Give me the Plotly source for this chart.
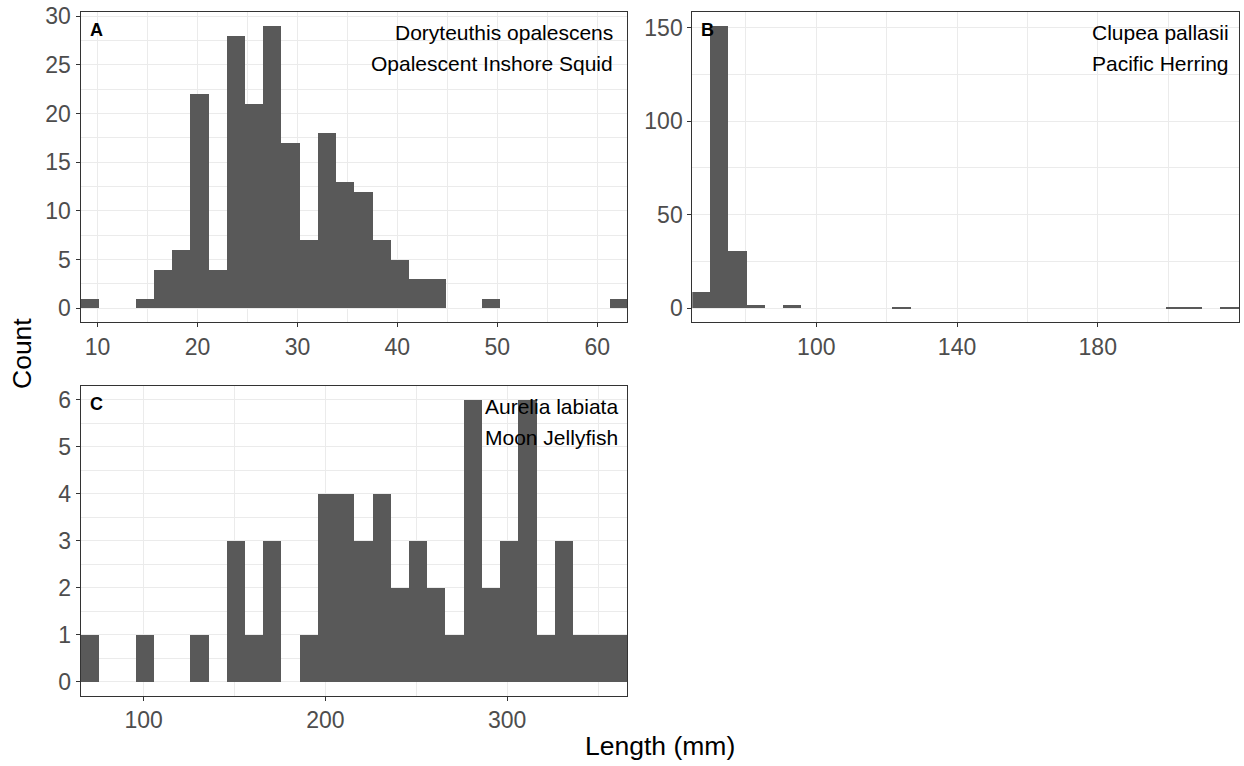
import plotly.graph_objects as go

# ---------------- data ----------------
# Panel A: Doryteuthis opalescens (30 bins)
a_bin_start = 8.29
a_bin_width = 1.824
a_counts = [1, 0, 0, 1, 4, 6, 22, 4, 28, 21, 29, 17, 7, 18, 13,
            12, 7, 5, 3, 3, 0, 0, 1, 0, 0, 0, 0, 0, 0, 1]
a_xticks = [10, 20, 30, 40, 50, 60]
a_yticks = [0, 5, 10, 15, 20, 25, 30]

# Panel B: Clupea pallasii (30 bins)
b_bin_start = 64.75
b_bin_width = 5.18
b_counts = [9, 151, 31, 2, 0, 2, 0, 0, 0, 0, 0, 1, 0, 0, 0,
            0, 0, 0, 0, 0, 0, 0, 0, 0, 0, 0, 1, 1, 0, 1]
b_xticks = [100, 140, 180]
b_yticks = [0, 50, 100, 150]

# Panel C: Aurelia labiata (30 bins)
c_bin_start = 65.4
c_bin_width = 10.023
c_counts = [1, 0, 0, 1, 0, 0, 1, 0, 3, 1, 3, 0, 1, 4, 4,
            3, 4, 2, 3, 2, 1, 6, 2, 3, 6, 1, 3, 1, 1, 1]
c_xticks = [100, 200, 300]
c_yticks = [0, 1, 2, 3, 4, 5, 6]

panel_letters = ["A", "B", "C"]
species_latin = ["Doryteuthis opalescens", "Clupea pallasii", "Aurelia labiata"]
species_common = ["Opalescent Inshore Squid", "Pacific Herring", "Moon Jellyfish"]
x_title = "Length (mm)"
y_title = "Count"

# ---------------- styling ----------------
W, H = 1244, 766
FONT = "Arial, Liberation Sans, sans-serif"
BAR = "#595959"
GRID = "#EBEBEB"
BORDER = "#333333"
TICKTXT = "#4D4D4D"

# plot areas in pixels: (left, right, top, bottom)
areas = [
    (80.5, 627.3, 11.7, 322.3),
    (692.3, 1239.0, 11.7, 322.3),
    (80.7, 627.3, 385.7, 695.7),
]


def px_x(v):
    return v / W


def px_y(v):
    return 1 - v / H


def centers(start, width, counts):
    return [start + (i + 0.5) * width for i in range(len(counts))]


def minor_vals(ticks, lo, hi):
    step = ticks[1] - ticks[0]
    vals = []
    t = ticks[0] - step / 2
    while t <= hi:
        if t >= lo:
            vals.append(t)
        t += step
    return vals


panels = [
    (a_bin_start, a_bin_width, a_counts, a_xticks, a_yticks),
    (b_bin_start, b_bin_width, b_counts, b_xticks, b_yticks),
    (c_bin_start, c_bin_width, c_counts, c_xticks, c_yticks),
]

fig = go.Figure()
layout = dict(
    width=W, height=H, autosize=False,
    margin=dict(l=0, r=0, t=0, b=0, pad=0, autoexpand=False),
    paper_bgcolor="white", plot_bgcolor="white",
    showlegend=False, bargap=0,
    font=dict(family=FONT, color="black"),
)

annotations = []
for i, (start, width, counts, xt, yt) in enumerate(panels):
    n = "" if i == 0 else str(i + 1)
    xs = centers(start, width, counts)
    fig.add_trace(go.Bar(
        x=xs, y=counts, width=[width] * len(counts),
        marker=dict(color=BAR, line=dict(width=0)),
        xaxis="x" + n, yaxis="y" + n, hoverinfo="x+y",
    ))
    xlo, xhi = start, start + width * len(counts)
    ymax = max(counts)
    ylo, yhi = -0.05 * ymax, ymax * 1.05
    l, r, t, b = areas[i]
    common = dict(
        showline=True, linecolor=BORDER, linewidth=1, mirror=True,
        ticks="outside", ticklen=4, tickwidth=1, tickcolor=BORDER,
        tickfont=dict(family=FONT, size=23, color=TICKTXT),
        showgrid=True, gridcolor=GRID, gridwidth=1.1,
        zeroline=False, layer="above traces", automargin=False,
    )
    layout["xaxis" + n] = dict(
        common, domain=[px_x(l), px_x(r)], anchor="y" + n,
        range=[xlo, xhi], tickmode="array", tickvals=xt,
        minor=dict(tickmode="array", tickvals=minor_vals(xt, xlo, xhi),
                   showgrid=True, gridcolor=GRID, gridwidth=0.6, ticks=""),
    )
    layout["yaxis" + n] = dict(
        common, domain=[px_y(b), px_y(t)], anchor="x" + n,
        range=[ylo, yhi], tickmode="array", tickvals=yt,
        minor=dict(tickmode="array", tickvals=minor_vals(yt, ylo, yhi),
                   showgrid=True, gridcolor=GRID, gridwidth=0.6, ticks=""),
    )
    # panel letter
    annotations.append(dict(
        text="<b>%s</b>" % panel_letters[i], xref="paper", yref="paper",
        x=px_x(l + 7), y=px_y(t + 18), xanchor="left", yanchor="middle",
        showarrow=False, font=dict(family=FONT, size=18, color="black"),
    ))
    inset = [12.5, 8.5, 7.5][i]
    annotations.append(dict(
        text=species_latin[i], xref="paper", yref="paper",
        x=px_x(r - inset), y=px_y(t + 21), xanchor="right", yanchor="middle",
        showarrow=False, font=dict(family=FONT, size=21, color="black"),
    ))
    annotations.append(dict(
        text=species_common[i], xref="paper", yref="paper",
        x=px_x(r - inset), y=px_y(t + 51.5), xanchor="right", yanchor="middle",
        showarrow=False, font=dict(family=FONT, size=21, color="black"),
    ))

annotations.append(dict(
    text=x_title, xref="paper", yref="paper",
    x=px_x(660), y=px_y(746), xanchor="center", yanchor="middle",
    showarrow=False, font=dict(family=FONT, size=26.5, color="black"),
))
annotations.append(dict(
    text=y_title, xref="paper", yref="paper",
    x=px_x(22), y=px_y(354), xanchor="center", yanchor="middle",
    textangle=-90, showarrow=False,
    font=dict(family=FONT, size=26.5, color="black"),
))
layout["annotations"] = annotations

fig.update_layout(**layout)
fig.write_html(
    "out.html",
    config={"displayModeBar": False},
    post_script=(
        "document.documentElement.style.margin='0';"
        "document.body.style.margin='0';document.body.style.overflow='hidden';"
        "var d=document.getElementById('{plot_id}');"
        "d.style.position='fixed';d.style.left='0px';d.style.top='0px';"
    ),
)
